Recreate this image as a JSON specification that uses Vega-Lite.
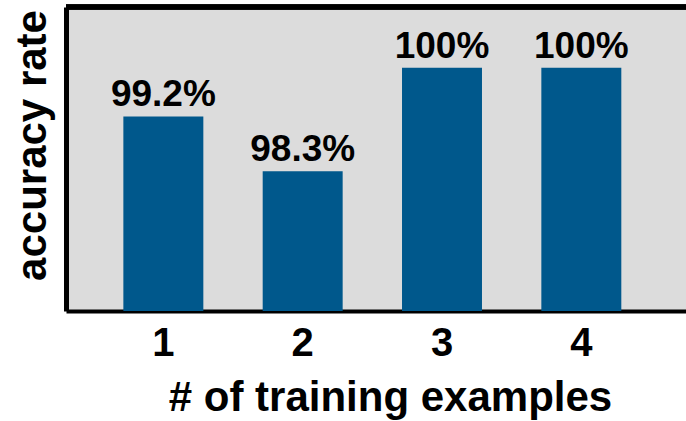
{
  "$schema": "https://vega.github.io/schema/vega-lite/v6.json",
  "width": 620,
  "height": 304,
  "autosize": {"type": "none"},
  "padding": {"left": 66, "top": 7, "right": 0, "bottom": 110},
  "background": "white",
  "config": {
    "font": "Liberation Sans",
    "view": {"stroke": null, "fill": "#dcdcdc"}
  },
  "data": {
    "values": [
      {"n": "1", "acc": 99.2, "label": "99.2%"},
      {"n": "2", "acc": 98.3, "label": "98.3%"},
      {"n": "3", "acc": 100, "label": "100%"},
      {"n": "4", "acc": 100, "label": "100%"}
    ]
  },
  "encoding": {
    "x": {
      "field": "n",
      "type": "ordinal",
      "scale": {"paddingInner": 0.426, "paddingOuter": 0.438, "align": 0.47},
      "axis": {
        "title": "# of training examples",
        "labelAngle": 0,
        "labelFont": "Liberation Sans",
        "labelFontSize": 40,
        "labelFontWeight": "bold",
        "labelColor": "black",
        "labelPadding": 12,
        "ticks": false,
        "domainColor": "black",
        "domainWidth": 4,
        "titleFont": "Liberation Sans",
        "titleFontSize": 42,
        "titleFontWeight": "bold",
        "titleColor": "black",
        "titlePadding": 14,
        "titleX": 324,
        "titleAlign": "center"
      }
    }
  },
  "layer": [
    {
      "mark": {"type": "bar", "color": "#00588c"},
      "encoding": {
        "y": {
          "field": "acc",
          "type": "quantitative",
          "scale": {"domain": [96, 101], "zero": false, "nice": false},
          "axis": {
            "title": "accuracy rate",
            "labels": false,
            "ticks": false,
            "grid": false,
            "domainColor": "black",
            "domainWidth": 5,
            "titleFont": "Liberation Sans",
            "titleFontSize": 42,
            "titleFontWeight": "bold",
            "titleColor": "black",
            "titleAngle": -90,
            "titleX": -34,
            "titleY": 138,
            "titleAlign": "center",
            "titleBaseline": "middle"
          }
        },
        "y2": {"datum": 96}
      }
    },
    {
      "mark": {"type": "text", "font": "Liberation Sans", "fontSize": 37, "fontWeight": "bold", "color": "black", "baseline": "alphabetic", "dy": -10},
      "encoding": {
        "y": {"field": "acc", "type": "quantitative"},
        "text": {"field": "label"}
      }
    },
    {
      "mark": {"type": "rule", "color": "black", "strokeWidth": 5},
      "encoding": {
        "x": null,
        "y": {"datum": 101, "type": "quantitative"}
      }
    }
  ]
}
